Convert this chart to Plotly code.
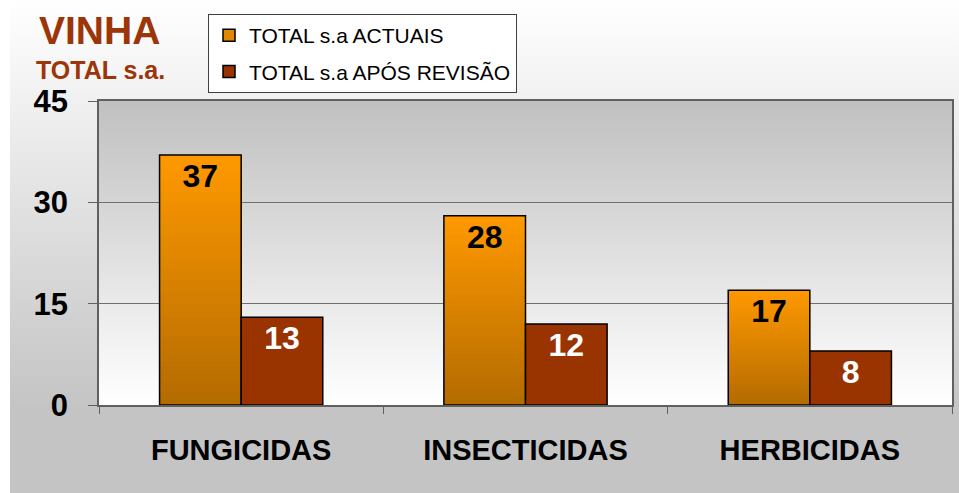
import base64
import plotly.graph_objects as go

# data
categories = ['FUNGICIDAS', 'INSECTICIDAS', 'HERBICIDAS']
actuais = [37, 28, 17]
apos_revisao = [13, 12, 8]
series_names = ['TOTAL s.a ACTUAIS', 'TOTAL s.a APÓS REVISÃO']
y_ticks = [0, 15, 30, 45]

FONT = 'Liberation Sans, Arial, sans-serif'
DARK_RED = '#993300'
ORANGE_TOP = (255, 153, 0)
ORANGE_BOTTOM = (179, 107, 0)
N_SEG = 40

# plot area in pixels (959x493 figure)
L, R, T, B = 99, 952, 101, 405


def px_x(p):
    return (p - L) / (R - L)


def px_y(p):
    return (B - p) / (B - T)


def svg_gradient(stops):
    stop_xml = ''.join(
        f'<stop offset="{o}" stop-color="{c}"/>' for o, c in stops
    )
    svg = (
        '<svg xmlns="http://www.w3.org/2000/svg" width="100" height="100" '
        'preserveAspectRatio="none" viewBox="0 0 100 100">'
        '<defs><linearGradient id="g" x1="0" y1="0" x2="0" y2="1">'
        f'{stop_xml}</linearGradient></defs>'
        '<rect x="0" y="0" width="100" height="100" fill="url(#g)"/></svg>'
    )
    return 'data:image/svg+xml;base64,' + base64.b64encode(svg.encode()).decode()


def mix(c1, c2, t):
    return 'rgb({},{},{})'.format(*[round(a + (b - a) * t) for a, b in zip(c1, c2)])


fig = go.Figure()

# orange bars as overlapping stacked slices to get a vertical gradient
for i in range(N_SEG):
    t = 1 - (i + 0.5) / N_SEG
    bases = [v * i / N_SEG for v in actuais]
    heights = [min(3 * v / N_SEG, v - b) for v, b in zip(actuais, bases)]
    fig.add_trace(go.Bar(
        x=categories,
        y=heights,
        base=bases,
        offsetgroup='a',
        marker=dict(color=mix(ORANGE_TOP, ORANGE_BOTTOM, t), line=dict(width=0)),
        showlegend=False,
        hoverinfo='skip',
    ))

# outline + labels for orange bars
fig.add_trace(go.Bar(
    x=categories,
    y=actuais,
    offsetgroup='a',
    marker=dict(color='rgba(0,0,0,0)', line=dict(color='black', width=1.5)),
    text=[str(v) for v in actuais],
    textposition='inside',
    insidetextanchor='end',
    textangle=0,
    textfont=dict(family=FONT, size=32, color='black', weight='bold'),
    showlegend=False,
    name=series_names[0],
))

fig.add_trace(go.Bar(
    x=categories,
    y=apos_revisao,
    offsetgroup='b',
    marker=dict(color=DARK_RED, line=dict(color='black', width=1.5)),
    text=[str(v) for v in apos_revisao],
    textposition='inside',
    insidetextanchor='end',
    textangle=0,
    textfont=dict(family=FONT, size=32, color='white', weight='bold'),
    showlegend=False,
    name=series_names[1],
))

# legend entries
fig.add_trace(go.Bar(
    x=[categories[0]], y=[None], offsetgroup='a', name=series_names[0],
    marker=dict(color='#E08800', line=dict(color='black', width=1.5)),
    legendgroup='g1',
))
fig.add_trace(go.Bar(
    x=[categories[0]], y=[None], offsetgroup='b', name=series_names[1],
    marker=dict(color=DARK_RED, line=dict(color='black', width=1.5)),
    legendgroup='g2',
))

fig.update_layout(
    width=959,
    height=493,
    margin=dict(l=L, r=959 - R, t=T, b=493 - B, autoexpand=False),
    paper_bgcolor='white',
    plot_bgcolor='rgba(0,0,0,0)',
    barmode='group',
    bargap=0.426,
    bargroupgap=0,
    font=dict(family=FONT, color='black'),
    legend=dict(
        x=px_x(208), y=px_y(14), xanchor='left', yanchor='top',
        bgcolor='white', bordercolor='#404040', borderwidth=1,
        font=dict(family=FONT, size=21, color='black'),
        tracegroupgap=6,
        itemwidth=30,
    ),
    images=[
        dict(
            source=svg_gradient([(0, '#FFFFFF'), (0.83, '#C4C4C4'), (1, '#C4C4C4')]),
            xref='paper', yref='paper',
            x=px_x(10), y=px_y(0),
            sizex=px_x(959) - px_x(10), sizey=px_y(0) - px_y(493),
            xanchor='left', yanchor='top', sizing='stretch', layer='below',
        ),
        dict(
            source=svg_gradient([(0, '#C0C0C0'), (1, '#FFFFFF')]),
            xref='paper', yref='paper',
            x=0, y=1, sizex=1, sizey=1,
            xanchor='left', yanchor='top', sizing='stretch', layer='below',
        ),
    ],
    annotations=[
        dict(
            text='VINHA', xref='paper', yref='paper',
            x=px_x(99), y=px_y(31), xanchor='center', yanchor='middle',
            showarrow=False,
            font=dict(family=FONT, size=39, color='#9C3508', weight='bold'),
        ),
        dict(
            text='TOTAL s.a.', xref='paper', yref='paper',
            x=px_x(100), y=px_y(70), xanchor='center', yanchor='middle',
            showarrow=False,
            font=dict(family=FONT, size=25, color='#9C3508', weight='bold'),
        ),
    ],
)

fig.update_xaxes(
    showline=True, linecolor='#606060', linewidth=1.5, mirror=True,
    ticks='outside', tickson='boundaries', ticklen=7, tickcolor='#606060',
    ticklabelstandoff=18,
    tickfont=dict(family=FONT, size=29, color='black', weight='bold'),
    showgrid=False,
)
fig.update_yaxes(
    range=[0, 45], tickvals=y_ticks,
    showline=True, linecolor='#606060', linewidth=1.5, mirror=True,
    ticks='outside', ticklen=9, tickcolor='#606060',
    ticklabelstandoff=14,
    tickfont=dict(family=FONT, size=31, color='black', weight='bold'),
    showgrid=True, gridcolor='#707070', gridwidth=1,
    zeroline=False,
)

fig.write_html(
    'out.html',
    config={'displayModeBar': False},
    post_script="document.body.style.margin='0';",
)
